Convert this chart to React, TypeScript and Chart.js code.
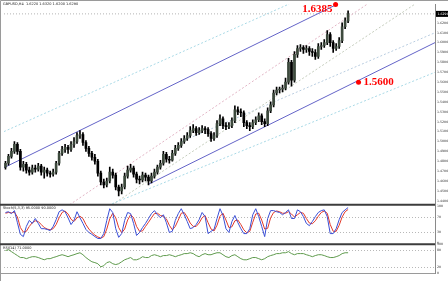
import React, { useEffect, useRef } from 'react';
import { Chart, registerables } from 'chart.js';

Chart.register(...registerables);

// ---------- data ----------
const SYMBOL = 'GBPUSD,H4';

const OPEN = [
  1.474, 1.478, 1.485, 1.490, 1.497, 1.490, 1.474, 1.477, 1.471, 1.469,
  1.473, 1.472, 1.475, 1.469, 1.471, 1.468, 1.467, 1.469, 1.478, 1.488,
  1.492, 1.494, 1.492, 1.497, 1.500, 1.506, 1.507, 1.499, 1.493, 1.488,
  1.484, 1.480, 1.468, 1.459, 1.456, 1.460, 1.469, 1.466, 1.454, 1.450,
  1.454, 1.465, 1.471, 1.473, 1.467, 1.462, 1.461, 1.466, 1.464, 1.460,
  1.465, 1.469, 1.474, 1.478, 1.487, 1.482, 1.481, 1.488, 1.493, 1.496,
  1.500, 1.503, 1.506, 1.511, 1.513, 1.509, 1.511, 1.513, 1.512, 1.508,
  1.503, 1.506, 1.518, 1.523, 1.516, 1.515, 1.516, 1.521, 1.532, 1.530,
  1.529, 1.519, 1.516, 1.515, 1.519, 1.522, 1.526, 1.520, 1.518, 1.531,
  1.537, 1.549, 1.552, 1.553, 1.554, 1.560, 1.580, 1.562, 1.588, 1.594,
  1.595, 1.593, 1.594, 1.591, 1.590, 1.586, 1.596, 1.597, 1.600, 1.608,
  1.600, 1.594, 1.596, 1.602, 1.616, 1.622,
];
const HIGH = [
  1.480, 1.487, 1.493, 1.500, 1.499, 1.492, 1.480, 1.479, 1.474, 1.476,
  1.476, 1.478, 1.477, 1.474, 1.473, 1.470, 1.472, 1.480, 1.490, 1.495,
  1.497, 1.496, 1.500, 1.504, 1.509, 1.511, 1.509, 1.501, 1.495, 1.490,
  1.487, 1.482, 1.470, 1.462, 1.463, 1.474, 1.472, 1.468, 1.456, 1.457,
  1.468, 1.475, 1.477, 1.475, 1.469, 1.465, 1.469, 1.468, 1.466, 1.468,
  1.472, 1.476, 1.481, 1.490, 1.489, 1.485, 1.491, 1.496, 1.499, 1.503,
  1.506, 1.509, 1.515, 1.517, 1.515, 1.514, 1.516, 1.515, 1.514, 1.510,
  1.509, 1.521, 1.527, 1.525, 1.519, 1.519, 1.524, 1.536, 1.535, 1.533,
  1.531, 1.521, 1.519, 1.522, 1.525, 1.529, 1.528, 1.523, 1.534, 1.540,
  1.552, 1.555, 1.555, 1.557, 1.564, 1.584, 1.582, 1.591, 1.597, 1.598,
  1.597, 1.597, 1.596, 1.594, 1.593, 1.599, 1.600, 1.603, 1.612, 1.610,
  1.602, 1.599, 1.605, 1.620, 1.625, 1.632,
];
const LOW = [
  1.472, 1.476, 1.483, 1.488, 1.487, 1.471, 1.470, 1.468, 1.466, 1.467,
  1.469, 1.470, 1.466, 1.463, 1.465, 1.464, 1.465, 1.467, 1.476, 1.486,
  1.489, 1.488, 1.490, 1.494, 1.498, 1.503, 1.496, 1.490, 1.485, 1.481,
  1.477, 1.465, 1.456, 1.453, 1.454, 1.458, 1.463, 1.451, 1.445, 1.447,
  1.452, 1.463, 1.469, 1.464, 1.458, 1.457, 1.459, 1.460, 1.456, 1.458,
  1.463, 1.467, 1.472, 1.476, 1.479, 1.478, 1.480, 1.486, 1.491, 1.494,
  1.498, 1.501, 1.504, 1.509, 1.506, 1.507, 1.509, 1.508, 1.505, 1.500,
  1.501, 1.504, 1.516, 1.513, 1.512, 1.513, 1.514, 1.519, 1.527, 1.525,
  1.515, 1.513, 1.511, 1.513, 1.517, 1.520, 1.517, 1.515, 1.516, 1.529,
  1.535, 1.547, 1.549, 1.550, 1.552, 1.558, 1.556, 1.560, 1.585, 1.591,
  1.589, 1.590, 1.587, 1.586, 1.583, 1.584, 1.593, 1.595, 1.598, 1.596,
  1.590, 1.592, 1.594, 1.600, 1.614, 1.620,
];
const CLOSE = [
  1.478, 1.485, 1.490, 1.497, 1.490, 1.474, 1.477, 1.471, 1.469, 1.473,
  1.472, 1.475, 1.469, 1.471, 1.468, 1.467, 1.469, 1.478, 1.488, 1.492,
  1.494, 1.492, 1.497, 1.500, 1.506, 1.507, 1.499, 1.493, 1.488, 1.484,
  1.480, 1.468, 1.459, 1.456, 1.460, 1.469, 1.466, 1.454, 1.450, 1.454,
  1.465, 1.471, 1.473, 1.467, 1.462, 1.461, 1.466, 1.464, 1.460, 1.465,
  1.469, 1.474, 1.478, 1.487, 1.482, 1.481, 1.488, 1.493, 1.496, 1.500,
  1.503, 1.506, 1.511, 1.513, 1.509, 1.511, 1.513, 1.512, 1.508, 1.503,
  1.506, 1.518, 1.523, 1.516, 1.515, 1.516, 1.521, 1.532, 1.530, 1.529,
  1.519, 1.516, 1.515, 1.519, 1.522, 1.526, 1.520, 1.518, 1.531, 1.537,
  1.549, 1.552, 1.553, 1.554, 1.560, 1.580, 1.562, 1.588, 1.594, 1.595,
  1.593, 1.594, 1.591, 1.590, 1.586, 1.596, 1.597, 1.600, 1.608, 1.600,
  1.594, 1.596, 1.602, 1.616, 1.622, 1.629,
];

const STOCH_MAIN = [
  82, 84, 79, 87, 55, 24, 18, 45, 61, 53,
  66, 53, 39, 39, 37, 34, 45, 63, 84, 89,
  84, 68, 50, 61, 84, 68, 53, 37, 29, 24,
  18, 13, 13, 26, 61, 92, 82, 39, 16, 26,
  61, 82, 79, 53, 21, 29, 42, 53, 66, 79,
  87, 76, 68, 76, 55, 29, 32, 61, 79, 92,
  76, 58, 39, 42, 50, 63, 82, 71, 26, 32,
  37, 66, 92, 74, 39, 29, 58, 74, 55, 39,
  26, 26, 39, 76, 92, 71, 45, 18, 66, 87,
  87, 84, 82, 76, 82, 89, 66, 66, 89, 84,
  71, 53, 47, 58, 71, 82, 87, 89, 71, 26,
  26, 39, 63, 82, 89, 95,
];
const STOCH_SIGNAL = [
  80, 82, 81, 83, 70, 42, 30, 32, 45, 55,
  60, 58, 50, 42, 38, 36, 39, 50, 68, 82,
  86, 78, 64, 58, 68, 72, 66, 50, 38, 29,
  22, 17, 14, 18, 38, 65, 80, 68, 42, 28,
  38, 62, 76, 68, 45, 32, 33, 45, 56, 68,
  79, 80, 74, 72, 65, 48, 36, 45, 62, 80,
  82, 70, 54, 45, 45, 54, 68, 74, 55, 38,
  33, 48, 72, 80, 62, 42, 44, 60, 62, 50,
  36, 28, 32, 56, 78, 80, 62, 38, 40, 68,
  82, 86, 84, 80, 80, 84, 78, 70, 76, 82,
  80, 66, 54, 52, 60, 72, 82, 86, 80, 50,
  32, 32, 48, 70, 84, 90,
];
const RSI = [
  79, 82, 75, 68, 61, 54, 54, 50, 54, 57,
  57, 54, 50, 46, 50, 50, 54, 57, 61, 64,
  61, 57, 61, 64, 68, 71, 64, 54, 46, 39,
  36, 32, 21, 25, 36, 39, 32, 29, 32, 39,
  46, 50, 54, 46, 46, 50, 57, 54, 54, 61,
  64, 61, 57, 61, 61, 64, 61, 57, 61, 64,
  68, 68, 71, 68, 61, 57, 64, 68, 64, 64,
  68, 71, 71, 64, 57, 54, 61, 64, 57, 50,
  46, 46, 50, 54, 54, 50, 46, 50, 57, 61,
  64, 68, 68, 71, 71, 75, 68, 64, 68, 68,
  68, 64, 61, 57, 61, 64, 64, 61, 57, 54,
  54, 57, 61, 68, 71, 71,
];

const DATE_LABELS = [
  '1 Apr 2009', '3 Apr 16:00', '8 Apr 08:00', '13 Apr 00:00', '15 Apr 16:00', '20 Apr 08:00',
  '23 Apr 00:00', '27 Apr 16:00', '30 Apr 08:00', '5 May 00:00', '7 May 16:00', '12 May 08:00',
  '15 May 00:00', '19 May 16:00', '22 May 08:00', '27 May 00:00',
];
const DATE_TICK_STEP = 7.5; // bars between time labels

const PRICE_TICKS = [
  1.63, 1.62, 1.61, 1.60, 1.59, 1.58, 1.57, 1.56, 1.55, 1.54,
  1.53, 1.52, 1.51, 1.50, 1.49, 1.48, 1.47, 1.46, 1.45, 1.44,
];
const STOCH_TICKS = [0, 30, 70, 100];
const STOCH_LEVELS = [30, 70];
const RSI_TICKS = [0, 20, 80, 100];
const RSI_LEVELS = [20, 80];

// trend / channel lines: start bar, start price, end bar, end price
const LINE_X0 = [-0.5, 48.2, -0.5, 35.8, 21.5, 35.8, 59.2];
const LINE_P0 = [1.4735, 1.457, 1.510, 1.437, 1.436, 1.436, 1.500];
const LINE_X1 = [110.8, 144.2, 95.2, 144.2, 121.5, 137.5, 144.2];
const LINE_P1 = [1.638, 1.600, 1.639, 1.570, 1.639, 1.639, 1.610];

// price targets marked on the chart
const ANNOT_X = [110.8, 118.5];
const ANNOT_PRICE = [1.6385, 1.56];
const ANNOT_TEXT = ['1.6385', '1.5600'];

// ---------- styles ----------
const LINE_STYLES = [
  { color: '#6464c8', dash: [] as number[] },
  { color: '#6464c8', dash: [] as number[] },
  { color: '#a9d9e6', dash: [2, 2] },
  { color: '#a9d9e6', dash: [2, 2] },
  { color: '#e2b6c6', dash: [2, 2] },
  { color: '#c4ccbc', dash: [2, 2] },
  { color: '#b9cde0', dash: [2, 2] },
];
const ANNOT_SIDE = ['left', 'right'];
const TINY = 'DejaVu Sans';

export default function App() {
  const ref = useRef<HTMLCanvasElement | null>(null);

  useEffect(() => {
    const canvas = ref.current;
    if (!canvas) return;
    const idx = CLOSE.map((_, i) => i);
    const last = CLOSE.length - 1;
    const lastClose = CLOSE[last];

    const wickData = idx.map((i) => ({ x: i, y: [LOW[i], HIGH[i]] }));
    const bodyData = idx.map((i) => ({ x: i, y: [OPEN[i], CLOSE[i]] }));
    const bodyFill = idx.map((i) => (CLOSE[i] >= OPEN[i] ? '#3d4a3d' : '#000000'));

    const lineSets = LINE_X0.map((x0, k) => ({
      type: 'line' as const,
      data: [
        { x: x0, y: LINE_P0[k] },
        { x: LINE_X1[k], y: LINE_P1[k] },
      ],
      borderColor: LINE_STYLES[k].color,
      borderDash: LINE_STYLES[k].dash,
      borderWidth: 1,
      pointRadius: 0,
      yAxisID: 'y',
      order: 8,
    }));

    const overlay = {
      id: 'mtOverlay',
      afterDraw(chart: any) {
        const { ctx, scales, chartArea } = chart;
        const ys = scales.y;
        const yst = scales.yStoch;
        const yr = scales.yRsi;
        ctx.save();

        // frame
        ctx.strokeStyle = '#9a9a9a';
        ctx.lineWidth = 1;
        ctx.beginPath();
        ctx.moveTo(0.5, 281);
        ctx.lineTo(0.5, 0.5);
        ctx.lineTo(448, 0.5);
        ctx.stroke();

        // panel separators
        ctx.strokeStyle = '#3c3c3c';
        ctx.lineWidth = 2;
        [ys.bottom, yst.bottom].forEach((yy: number) => {
          ctx.beginPath();
          ctx.moveTo(0, yy);
          ctx.lineTo(chartArea.right, yy);
          ctx.stroke();
        });
        ctx.strokeStyle = '#9a9a9a';
        ctx.lineWidth = 1;
        ctx.beginPath();
        ctx.moveTo(0, Math.round(yr.bottom) + 0.5);
        ctx.lineTo(chartArea.right, Math.round(yr.bottom) + 0.5);
        ctx.stroke();

        // headers
        ctx.fillStyle = '#222222';
        ctx.textBaseline = 'top';
        ctx.textAlign = 'left';
        ctx.font = `3.5px "${TINY}"`;
        ctx.fillText(
          `${SYMBOL}  ${OPEN[last].toFixed(4)} ${HIGH[last].toFixed(4)} ${LOW[last].toFixed(4)} ${lastClose.toFixed(4)}`,
          3, 2,
        );
        ctx.fillText(
          `Stoch(5,3,3) ${STOCH_MAIN[last].toFixed(4)} ${STOCH_SIGNAL[last].toFixed(4)}`,
          3, yst.top + 2,
        );
        ctx.fillText(`RSI(14) ${RSI[last].toFixed(4)}`, 3, yr.top + 2);

        // current price tag on the price axis
        const py = ys.getPixelForValue(lastClose);
        ctx.fillStyle = '#000000';
        ctx.fillRect(chartArea.right + 1, py - 3, 448 - chartArea.right - 1, 6);
        ctx.fillStyle = '#ffffff';
        ctx.textBaseline = 'middle';
        ctx.font = `3.2px "${TINY}"`;
        ctx.fillText(lastClose.toFixed(4), chartArea.right + 2.5, py);

        // target labels
        const meta = chart.getDatasetMeta(chart.data.datasets.length - 1);
        ctx.fillStyle = '#ff0000';
        ctx.font = 'bold 11px "Liberation Serif"';
        ANNOT_TEXT.forEach((t, k) => {
          const pt = meta.data[k];
          if (!pt) return;
          if (ANNOT_SIDE[k] === 'left') {
            ctx.textAlign = 'right';
            ctx.textBaseline = 'middle';
            ctx.fillText(t, pt.x - 3, pt.y + 5);
          } else {
            ctx.textAlign = 'left';
            ctx.textBaseline = 'middle';
            ctx.fillText(t, pt.x + 5, pt.y + 0.5);
          }
        });
        ctx.restore();
      },
    };

    const chart = new Chart(canvas, {
      type: 'bar',
      data: {
        datasets: [
          {
            type: 'bar',
            data: bodyData as any,
            backgroundColor: bodyFill,
            borderWidth: 0,
            barThickness: 2,
            minBarLength: 1,
            grouped: false,
            yAxisID: 'y',
            order: 4,
          } as any,
          {
            type: 'bar',
            data: wickData as any,
            backgroundColor: '#000000',
            borderWidth: 0,
            barThickness: 1,
            grouped: false,
            yAxisID: 'y',
            order: 5,
          } as any,
          ...lineSets,
          {
            type: 'line',
            data: [
              { x: -0.5, y: lastClose },
              { x: 144.2, y: lastClose },
            ],
            borderColor: '#b4b4b4',
            borderDash: [1, 2],
            borderWidth: 1,
            pointRadius: 0,
            yAxisID: 'y',
            order: 9,
          } as any,
          {
            type: 'line',
            data: idx.map((i) => ({ x: i, y: STOCH_SIGNAL[i] })),
            borderColor: '#e23a2a',
            borderWidth: 1,
            pointRadius: 0,
            yAxisID: 'yStoch',
            order: 3,
          } as any,
          {
            type: 'line',
            data: idx.map((i) => ({ x: i, y: STOCH_MAIN[i] })),
            borderColor: '#3b4fd6',
            borderWidth: 1,
            pointRadius: 0,
            yAxisID: 'yStoch',
            order: 2,
          } as any,
          {
            type: 'line',
            data: idx.map((i) => ({ x: i, y: RSI[i] })),
            borderColor: '#5e9a4c',
            borderWidth: 1,
            pointRadius: 0,
            yAxisID: 'yRsi',
            order: 2,
          } as any,
          {
            type: 'line',
            data: ANNOT_X.map((x, k) => ({ x, y: ANNOT_PRICE[k] })),
            showLine: false,
            pointRadius: 2.5,
            pointBackgroundColor: '#ff0000',
            pointBorderColor: '#ff0000',
            pointBorderWidth: 0,
            yAxisID: 'y',
            clip: false,
            order: 0,
          } as any,
        ],
      },
      options: {
        animation: false,
        responsive: false,
        maintainAspectRatio: false,
        devicePixelRatio: 1,
        layout: { padding: { top: 1, left: 1, right: 0, bottom: 0 } },
        plugins: { legend: { display: false }, tooltip: { enabled: false } },
        scales: {
          x: {
            type: 'linear',
            position: 'bottom',
            min: -0.5,
            max: 144.17,
            offset: false,
            grid: { display: false },
            border: { display: false },
            afterBuildTicks: (s: any) => {
              s.ticks = DATE_LABELS.map((_, k) => ({ value: k * DATE_TICK_STEP }));
            },
            afterFit: (s: any) => {
              s.height = 8;
            },
            ticks: {
              autoSkip: false,
              maxRotation: 0,
              minRotation: 0,
              align: 'start',
              padding: 1,
              color: '#333333',
              font: { size: 3, family: TINY },
              callback: (_v: any, i: number) => DATE_LABELS[i],
            },
          },
          y: {
            type: 'linear',
            position: 'right',
            stack: 'panes',
            stackWeight: 203,
            min: 1.436,
            max: 1.639,
            afterBuildTicks: (s: any) => {
              s.ticks = PRICE_TICKS.map((v) => ({ value: v }));
            },
            afterFit: (s: any) => {
              s.width = 13;
            },
            grid: { drawOnChartArea: false, drawTicks: true, tickLength: 1, color: '#808080' },
            border: { display: true, color: '#8a8a8a' },
            ticks: {
              autoSkip: false,
              padding: 1,
              color: '#333333',
              font: { size: 3.2, family: TINY },
              callback: (v: any) => Number(v).toFixed(4),
            },
          },
          yStoch: {
            type: 'linear',
            position: 'right',
            stack: 'panes',
            stackWeight: 40,
            min: -2.5,
            max: 102.5,
            afterBuildTicks: (s: any) => {
              s.ticks = STOCH_TICKS.map((v) => ({ value: v }));
            },
            afterFit: (s: any) => {
              s.width = 13;
            },
            grid: {
              drawOnChartArea: true,
              drawTicks: true,
              tickLength: 1,
              color: (c: any) => (STOCH_LEVELS.includes(c.tick?.value) ? '#b8b8b8' : 'rgba(0,0,0,0)'),
            },
            border: { display: true, color: '#8a8a8a', dash: [1, 2] },
            ticks: {
              autoSkip: false,
              padding: 1,
              color: '#333333',
              font: { size: 3.2, family: TINY },
            },
          },
          yRsi: {
            type: 'linear',
            position: 'right',
            stack: 'panes',
            stackWeight: 29,
            min: -1,
            max: 101,
            afterBuildTicks: (s: any) => {
              s.ticks = RSI_TICKS.map((v) => ({ value: v }));
            },
            afterFit: (s: any) => {
              s.width = 13;
            },
            grid: {
              drawOnChartArea: true,
              drawTicks: true,
              tickLength: 1,
              color: (c: any) => (RSI_LEVELS.includes(c.tick?.value) ? '#b8b8b8' : 'rgba(0,0,0,0)'),
            },
            border: { display: true, color: '#8a8a8a', dash: [1, 2] },
            ticks: {
              autoSkip: false,
              padding: 1,
              color: '#333333',
              font: { size: 3.2, family: TINY },
            },
          },
        } as any,
      },
      plugins: [overlay],
    } as any);

    return () => chart.destroy();
  }, []);

  return (
    <div style={{ position: 'absolute', left: 0, top: 0, width: 448, height: 281, background: '#ffffff' }}>
      <canvas ref={ref} width={448} height={281} style={{ display: 'block', width: 448, height: 281 }} />
    </div>
  );
}
